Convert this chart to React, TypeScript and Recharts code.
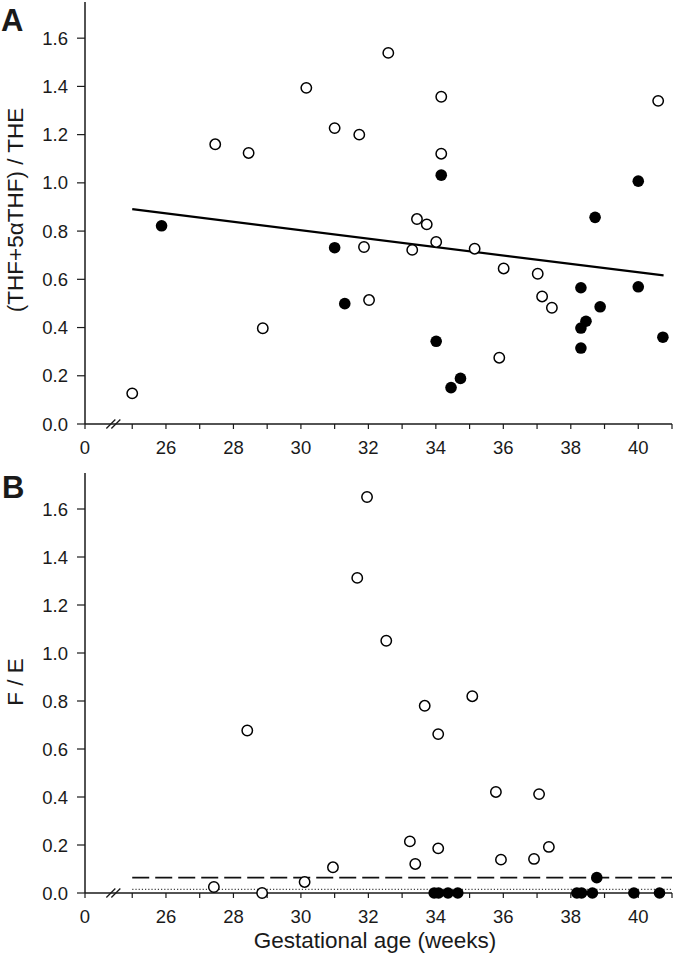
import React from "react";
import {
  ScatterChart,
  Scatter,
  XAxis,
  YAxis,
  ReferenceLine,
  ReferenceDot,
} from "recharts";

// gestational age (weeks), ratio
const openA: [number, number][] = [
  [25.0, 0.127], [27.46, 1.16], [28.45, 1.124], [28.87, 0.397], [30.16, 1.394],
  [31.0, 1.227], [31.73, 1.2], [31.87, 0.734], [32.02, 0.514], [32.59, 1.539],
  [33.3, 0.722], [33.44, 0.85], [33.73, 0.828], [34.01, 0.755], [34.16, 1.357],
  [34.16, 1.121], [35.15, 0.727], [35.88, 0.275], [36.01, 0.645], [37.02, 0.623],
  [37.15, 0.529], [37.44, 0.482], [40.59, 1.34],
];
const filledA: [number, number][] = [
  [25.87, 0.822], [31.0, 0.731], [31.3, 0.499], [34.01, 0.343], [34.16, 1.032],
  [34.45, 0.151], [34.73, 0.189], [38.3, 0.565], [38.3, 0.398], [38.3, 0.315],
  [38.45, 0.426], [38.72, 0.857], [38.87, 0.486], [40.0, 1.007], [40.0, 0.569],
  [40.73, 0.36],
];
const openB: [number, number][] = [
  [27.42, 0.025], [28.41, 0.677], [28.85, 0.0], [30.11, 0.046], [30.95, 0.107],
  [31.67, 1.313], [31.96, 1.65], [32.53, 1.051], [33.23, 0.215], [33.39, 0.121],
  [33.67, 0.78], [34.07, 0.662], [34.07, 0.186], [35.08, 0.82], [35.78, 0.421],
  [35.93, 0.139], [36.91, 0.142], [37.06, 0.412], [37.35, 0.192],
];
const filledB: [number, number][] = [
  [33.95, 0], [34.08, 0], [34.36, 0], [34.65, 0], [38.18, 0], [38.32, 0],
  [38.64, 0], [38.77, 0.064], [39.87, 0], [40.63, 0],
];

// regression line in A, reference levels in B
const regressionA: [number, number][] = [[25.0, 0.891], [40.75, 0.616]];
const dashedLevel = 0.064;
const dottedLevel = 0.015;
const levelStart = 25.0;

const xStart = 23.6; // shown as "0" before the axis break
const xBreak = 24.47;
const xTicks = [xStart, 25, 26, 27, 28, 29, 30, 31, 32, 33, 34, 35, 36, 37, 38, 39, 40, 41];
const yTicks = [0, 0.2, 0.4, 0.6, 0.8, 1.0, 1.2, 1.4, 1.6];

const toPts = (a: [number, number][]) => a.map(([x, y]) => ({ x, y }));

const ink = "#1a1a1a";
const font = '"Liberation Sans", Arial, sans-serif';

const openDot = (p: any) => (
  <circle cx={p.cx} cy={p.cy} r={5.2} fill="#fff" stroke="#000" strokeWidth={1.5} />
);
const filledDot = (p: any) => <circle cx={p.cx} cy={p.cy} r={5.8} fill="#000" />;

const breakMark = (p: any) => (
  <g stroke={ink} strokeWidth={1.3}>
    <line x1={p.cx - 8} y1={p.cy + 4.5} x2={p.cx + 1} y2={p.cy - 4.5} />
    <line x1={p.cx - 3} y1={p.cy + 4.5} x2={p.cx + 6} y2={p.cy - 4.5} />
  </g>
);

const xFmt = (v: number) => (v === xStart ? "0" : v % 2 === 0 ? String(v) : "");

function Panel({
  open,
  filled,
  height,
  top,
  xHeight,
  children,
}: {
  open: [number, number][];
  filled: [number, number][];
  height: number;
  top: number;
  xHeight: number;
  children?: React.ReactNode;
}) {
  return (
    <ScatterChart
      width={673}
      height={height}
      margin={{ top, right: 1, bottom: 0, left: 0 }}
      style={{ fontFamily: font }}
    >
      <XAxis
        type="number"
        dataKey="x"
        domain={[xStart, 41]}
        ticks={xTicks}
        tickFormatter={xFmt}
        interval={0}
        height={xHeight}
        tickSize={5}
        tickMargin={12}
        axisLine={{ stroke: ink, strokeWidth: 1.5 }}
        tickLine={{ stroke: ink, strokeWidth: 1.2 }}
        tick={{ fill: ink, fontSize: 18.5 }}
      />
      <YAxis
        type="number"
        dataKey="y"
        domain={[0, 1.75]}
        ticks={yTicks}
        tickFormatter={(v: number) => v.toFixed(1)}
        interval={0}
        width={85}
        tickSize={8}
        tickMargin={9}
        axisLine={{ stroke: ink, strokeWidth: 1.5 }}
        tickLine={{ stroke: ink, strokeWidth: 1.2 }}
        tick={{ fill: ink, fontSize: 18.5 }}
      />
      {children}
      <ReferenceDot x={xBreak} y={0} ifOverflow="visible" shape={breakMark} />
      <Scatter data={toPts(open)} shape={openDot} isAnimationActive={false} />
      <Scatter data={toPts(filled)} shape={filledDot} isAnimationActive={false} />
    </ScatterChart>
  );
}

export default function App() {
  return (
    <div
      style={{
        position: "absolute",
        left: 0,
        top: 0,
        width: 673,
        height: 955,
        background: "#fff",
        fontFamily: font,
      }}
    >
      <div style={{ position: "absolute", left: 0, top: 0 }}>
        <Panel open={openA} filled={filledA} height={460} top={2} xHeight={36}>
          <ReferenceLine
            segment={regressionA.map(([x, y]) => ({ x, y }))}
            stroke="#000"
            strokeWidth={2.3}
            ifOverflow="visible"
          />
        </Panel>
      </div>
      <div style={{ position: "absolute", left: 0, top: 460 }}>
        <Panel open={openB} filled={filledB} height={495} top={13} xHeight={62}>
          <ReferenceLine
            segment={[
              { x: levelStart, y: dashedLevel },
              { x: 41, y: dashedLevel },
            ]}
            stroke="#111"
            strokeWidth={1.8}
            strokeDasharray="17 6"
          />
          <ReferenceLine
            segment={[
              { x: levelStart, y: dottedLevel },
              { x: 41, y: dottedLevel },
            ]}
            stroke="#444"
            strokeWidth={1.2}
            strokeDasharray="1.2 2"
          />
        </Panel>
      </div>
      <svg
        width={673}
        height={955}
        style={{ position: "absolute", left: 0, top: 0, pointerEvents: "none" }}
        fontFamily={font}
        fill={ink}
      >
        <text x={1} y={31} fontSize={31} fontWeight="bold">A</text>
        <text x={2} y={498} fontSize={31} fontWeight="bold">B</text>
        <text
          x={23}
          y={210}
          fontSize={22.5}
          textAnchor="middle"
          transform="rotate(-90 23 210)"
        >
          (THF+5αTHF) / THE
        </text>
        <text
          x={23}
          y={682}
          fontSize={22.5}
          textAnchor="middle"
          transform="rotate(-90 23 682)"
        >
          F / E
        </text>
        <text x={375} y={948} fontSize={22.5} textAnchor="middle">
          Gestational age (weeks)
        </text>
      </svg>
    </div>
  );
}
